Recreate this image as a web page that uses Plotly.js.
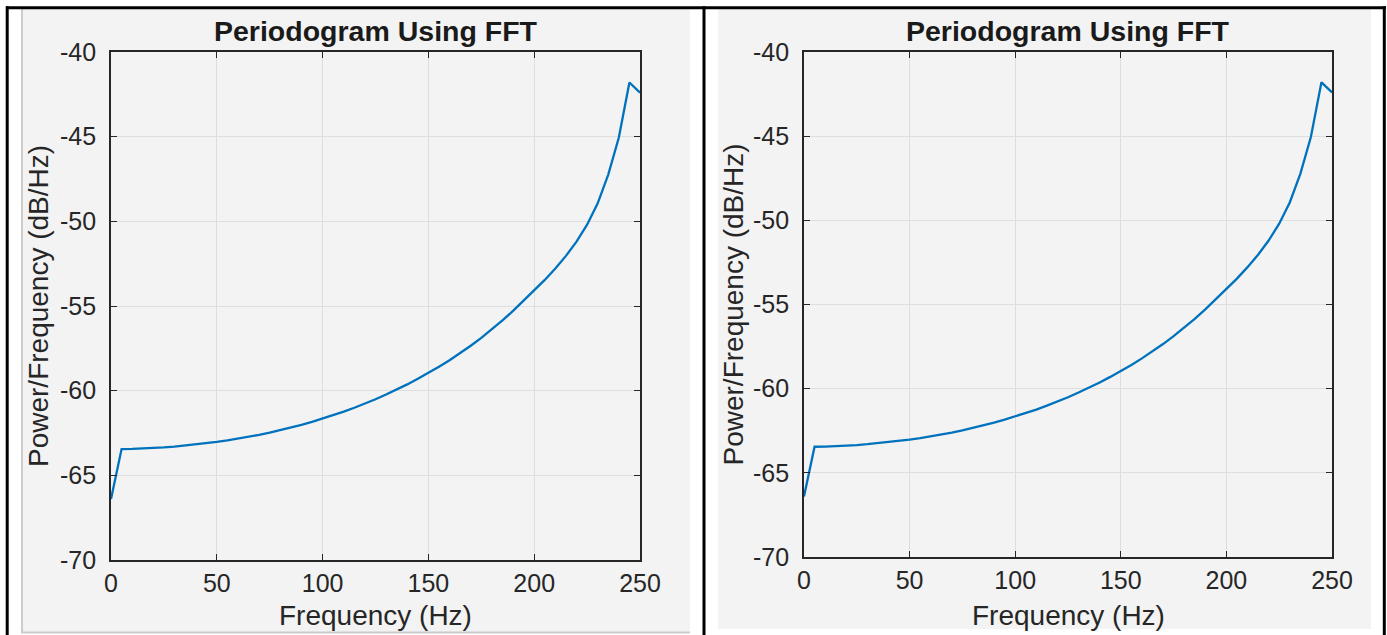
<!DOCTYPE html>
<html>
<head>
<meta charset="utf-8">
<script src="https://cdn.plot.ly/plotly-3.0.1.min.js"></script>
<style>
  html, body { margin: 0; padding: 0; background: #ffffff; }
  #chart { width: 1387px; height: 635px; }
</style>
</head>
<body>
<div id="chart"></div>
<script>
// ---- data ----
const frequencyHz = [0, 5, 10, 15, 20, 25, 30, 35, 40, 45, 50, 55, 60, 65, 70, 75, 80, 85, 90, 95,
  100, 105, 110, 115, 120, 125, 130, 135, 140, 145, 150, 155, 160, 165, 170, 175, 180, 185, 190, 195,
  200, 205, 210, 215, 220, 225, 230, 235, 240, 245, 250];
const powerDbPerHz = [-66.40, -63.45, -63.44, -63.42, -63.39, -63.35, -63.30, -63.24, -63.18, -63.11,
  -63.03, -62.94, -62.84, -62.73, -62.61, -62.48, -62.34, -62.18, -62.02, -61.84,
  -61.65, -61.45, -61.24, -61.01, -60.77, -60.51, -60.23, -59.94, -59.63, -59.30,
  -58.96, -58.59, -58.20, -57.79, -57.35, -56.88, -56.38, -55.85, -55.29, -54.70,
  -54.10, -53.46, -52.78, -52.04, -51.20, -50.20, -48.94, -47.24, -45.05, -41.80, -42.40];
const xTickValues = [0, 50, 100, 150, 200, 250];
const yTickValues = [-70, -65, -60, -55, -50, -45, -40];
const chartTitle = "Periodogram Using FFT";
const xLabel = "Frequency (Hz)";
const yLabel = "Power/Frequency (dB/Hz)";

// ---- layout helpers (pixel -> paper) ----
const W = 1387, H = 635;
const px = x => x / W;
const py = y => 1 - y / H;

const panels = [
  {left: 111, right: 640, top: 52, bottom: 560, ylabX: 38},
  {left: 804, right: 1332, top: 52, bottom: 557, ylabX: 733}
];

const FONT = "Liberation Sans, Arial, Helvetica, sans-serif";
const TXT = "#262626";

function axisCommon() {
  return {
    showline: true, linecolor: TXT, linewidth: 1.6, mirror: 'ticks',
    ticks: 'inside', ticklen: 6, tickwidth: 1.4, tickcolor: TXT,
    showgrid: true, gridcolor: '#dedede', gridwidth: 1,
    zeroline: false, fixedrange: true,
    tickfont: {family: FONT, size: 25, color: TXT}
  };
}

const traces = [];
const layout = {
  width: W, height: H,
  margin: {l: 0, r: 0, t: 0, b: 0},
  paper_bgcolor: '#ffffff', plot_bgcolor: '#ffffff',
  showlegend: false,
  annotations: [], shapes: []
};

panels.forEach((p, i) => {
  const sfx = i === 0 ? '' : String(i + 1);
  traces.push({
    x: frequencyHz, y: powerDbPerHz, type: 'scatter', mode: 'lines',
    xaxis: 'x' + sfx, yaxis: 'y' + sfx,
    line: {color: '#0072BD', width: 2.3}, hoverinfo: 'x+y'
  });
  const xa = Object.assign(axisCommon(), {
    domain: [px(p.left), px(p.right)], range: [0, 250],
    tickvals: xTickValues, ticktext: xTickValues.map(String),
    anchor: 'y' + sfx, ticklabelstandoff: 0
  });
  const ya = Object.assign(axisCommon(), {
    domain: [py(p.bottom), py(p.top)], range: [-70, -40],
    tickvals: yTickValues, ticktext: yTickValues.map(String),
    anchor: 'x' + sfx, ticklabelstandoff: 8
  });
  layout['xaxis' + sfx] = xa;
  layout['yaxis' + sfx] = ya;

  const cx = (p.left + p.right) / 2, cy = (p.top + p.bottom) / 2;
  layout.annotations.push(
    {text: '<b>' + chartTitle + '</b>', xref: 'paper', yref: 'paper', x: px(cx), y: py(31),
     xanchor: 'center', yanchor: 'middle', showarrow: false,
     font: {family: FONT, size: 28.5, color: '#1a1a1a'}},
    {text: xLabel, xref: 'paper', yref: 'paper', x: px(cx), y: py(615),
     xanchor: 'center', yanchor: 'middle', showarrow: false,
     font: {family: FONT, size: 28, color: TXT}},
    {text: yLabel, xref: 'paper', yref: 'paper', x: px(p.ylabX), y: py(cy),
     xanchor: 'center', yanchor: 'middle', showarrow: false, textangle: -90,
     font: {family: FONT, size: 28, color: TXT}}
  );
});

// backgrounds of the two figure windows and the table borders
layout.shapes.push(
  {type: 'rect', xref: 'paper', yref: 'paper', layer: 'below',
   x0: px(21), x1: px(690), y0: py(633), y1: py(9), fillcolor: '#f3f3f3', line: {width: 0}},
  {type: 'rect', xref: 'paper', yref: 'paper', layer: 'below',
   x0: px(718), x1: px(1371), y0: py(629), y1: py(9), fillcolor: '#f3f3f3', line: {width: 0}},
  {type: 'line', xref: 'paper', yref: 'paper', layer: 'below',
   x0: px(22), x1: px(22), y0: py(633), y1: py(9), line: {color: '#cccccc', width: 2}},
  {type: 'line', xref: 'paper', yref: 'paper', layer: 'below',
   x0: px(21), x1: px(690), y0: py(632.5), y1: py(632.5), line: {color: '#cccccc', width: 2}},
  {type: 'line', xref: 'paper', yref: 'paper', layer: 'above',
   x0: px(6), x1: px(1386), y0: py(7.7), y1: py(7.7), line: {color: '#000000', width: 3}},
  {type: 'line', xref: 'paper', yref: 'paper', layer: 'above',
   x0: px(7.2), x1: px(7.2), y0: py(636), y1: py(6.3), line: {color: '#000000', width: 3}},
  {type: 'line', xref: 'paper', yref: 'paper', layer: 'above',
   x0: px(704), x1: px(704), y0: py(636), y1: py(6.3), line: {color: '#000000', width: 3}},
  {type: 'line', xref: 'paper', yref: 'paper', layer: 'above',
   x0: px(1384.3), x1: px(1384.3), y0: py(636), y1: py(6.3), line: {color: '#000000', width: 3}}
);

Plotly.newPlot('chart', traces, layout, {displayModeBar: false, staticPlot: false});
</script>
</body>
</html>
